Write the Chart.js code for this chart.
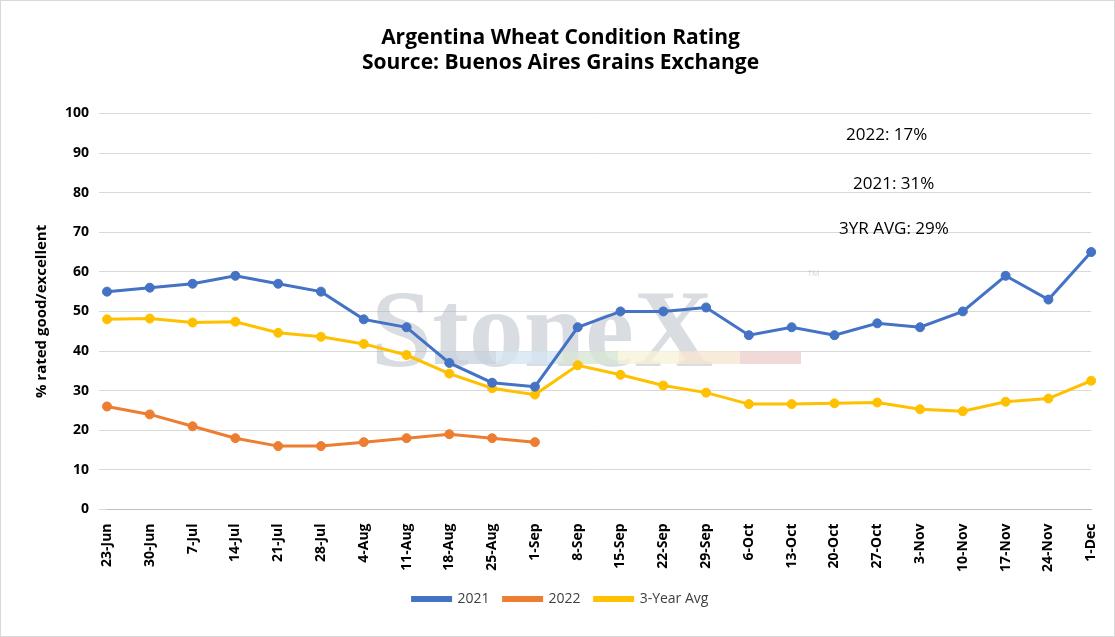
<!DOCTYPE html>
<html><head><meta charset="utf-8">
<script src="https://cdn.jsdelivr.net/npm/chart.js@4/dist/chart.umd.min.js"></script>
<style>
body{margin:0;background:#fff;}
#wrap{position:absolute;left:0;top:0;width:1113px;height:635px;border:1px solid #d9d9d9;}
</style></head>
<body><div id="wrap"><canvas id="c" width="1113" height="635"></canvas></div>
<script>
const labels = ['23-Jun','30-Jun','7-Jul','14-Jul','21-Jul','28-Jul','4-Aug','11-Aug','18-Aug','25-Aug','1-Sep','8-Sep','15-Sep','22-Sep','29-Sep','6-Oct','13-Oct','20-Oct','27-Oct','3-Nov','10-Nov','17-Nov','24-Nov','1-Dec'];
const y2021 = [55,56,57,59,57,55,48,46,37,32,31,46,50,50,51,44,46,44,47,46,50,59,53,65];
const y2022 = [26,24,21,18,16,16,17,18,19,18,17];
const avg3 = [48,48.2,47.2,47.4,44.6,43.6,41.8,39,34.3,30.6,29,36.4,34,31.3,29.5,26.6,26.6,26.8,27,25.3,24.8,27.2,28,32.5];
const notes = [['2022: 17%',845,134],['2021: 31%',852,183],['3YR AVG: 29%',838,228]];

const font = "'Open Sans', sans-serif";
const extras = {
  id:'extras',
  beforeDatasetsDraw(chart){
    const ctx = chart.ctx;
    ctx.save();
    ctx.fillStyle = 'rgba(170,180,190,0.45)';
    ctx.font = "bold 110px 'Liberation Serif', serif";
    ctx.fillText('StoneX', 370, 337);
    ctx.font = "14px sans-serif";
    ctx.fillText('™', 805, 275);
    const cols = ['#c9d3df','#d6e6f2','#d7e6d4','#f6f2d8','#f7e6d2','#efcfcf'];
    cols.forEach((c,i)=>{ctx.fillStyle=c; ctx.globalAlpha=0.8; ctx.fillRect(434+i*61,350,61,13);});
    ctx.restore();
  },
  afterDraw(chart){
    const ctx = chart.ctx;
    ctx.save();
    ctx.fillStyle = '#000';
    ctx.font = "17px " + font;
    ctx.textBaseline = 'middle';
    notes.forEach(n=>ctx.fillText(n[0], n[1], n[2]));
    ctx.restore();
  }
};

new Chart(document.getElementById('c'), {
  type:'line',
  data:{labels, datasets:[
    {label:'2021', data:y2021, borderColor:'#4472c4', backgroundColor:'#4472c4'},
    {label:'2022', data:y2022, borderColor:'#ed7d31', backgroundColor:'#ed7d31'},
    {label:'3-Year Avg', data:avg3, borderColor:'#ffc000', backgroundColor:'#ffc000'}
  ]},
  options:{
    responsive:false, animation:false,
    elements:{line:{borderWidth:3,tension:0}, point:{radius:4.5,borderWidth:1}},
    layout:{padding:{left:28,right:22,top:0,bottom:20}},
    plugins:{
      title:{display:true, text:['Argentina Wheat Condition Rating','Source: Buenos Aires Grains Exchange'],
        color:'#000', font:{family:font,size:21,weight:'bold'}, padding:{top:24,bottom:38}, lineHeight:1.3},
      legend:{position:'bottom', labels:{color:'#404040', font:{family:font,size:14}, boxWidth:38, boxHeight:3, padding:14}},
      tooltip:{enabled:false}
    },
    scales:{
      x:{offset:false, grid:{display:false}, border:{color:'#bfbfbf'},
        ticks:{color:'#000', font:{family:font,size:14,weight:'bold'}, maxRotation:90, minRotation:90, autoSkip:false, padding:6}},
      y:{min:0,max:100, ticks:{stepSize:10,color:'#000',font:{family:font,size:14,weight:'bold'},padding:10},
        grid:{color:'#d9d9d9'}, border:{display:false},
        title:{display:true,text:'% rated good/excellent',color:'#000',font:{family:font,size:15,weight:'bold'}}}
    }
  },
  plugins:[extras]
});
</script></body></html>
